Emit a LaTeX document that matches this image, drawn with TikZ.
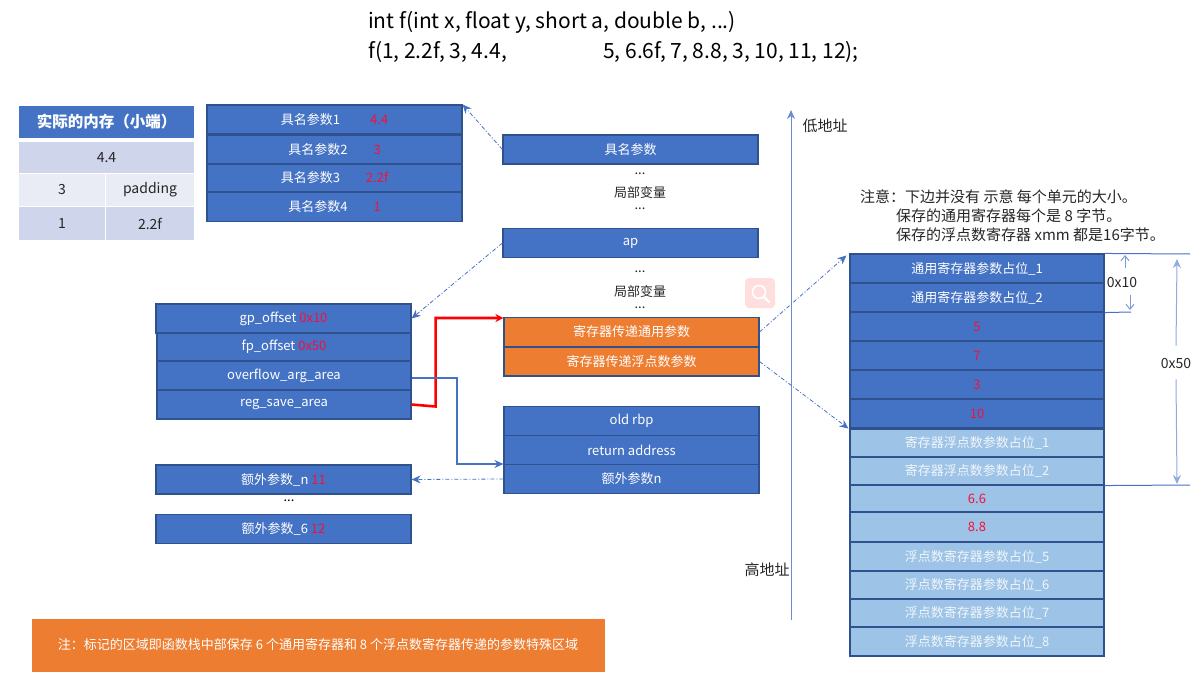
\documentclass[tikz,border=0pt]{standalone}
\usepackage{fontspec}
\setmainfont{Noto Sans CJK SC}
\usepackage{xcolor}
\usetikzlibrary{arrows.meta}
\definecolor{boxblue}{HTML}{4472C4}
\definecolor{boxline}{HTML}{2F528F}
\definecolor{boxlight}{HTML}{9DC3E6}
\definecolor{boxorange}{HTML}{ED7D31}
\definecolor{rowdark}{HTML}{CFD5EA}
\definecolor{rowpale}{HTML}{E9EBF5}
\definecolor{valred}{HTML}{F5103C}
\definecolor{inkgray}{HTML}{262626}
\newcommand{\val}[1]{\textcolor{valred}{#1}}
\newcommand{\fs}[1]{\fontsize{#1}{#1}\selectfont}
\tikzset{
  cell/.style={draw=boxline,line width=1.1pt,fill=boxblue,text=white,minimum width=255pt,minimum height=29pt,inner sep=0pt,font=\fs{13}},
  cellpale/.style={cell,fill=boxlight,text=white!85!boxlight},
  cellhot/.style={cell,fill=boxorange},
  tabrow/.style={minimum height=32pt,inner sep=0pt,text=inkgray,font=\fs{14}},
  plain/.style={inner sep=0pt,text=inkgray,font=\fs{13}},
  note/.style={inner sep=0pt,anchor=west,text=inkgray,font=\fs{15}},
  head/.style={inner sep=0pt,anchor=west,text=black,font=\fs{21}},
  linkdash/.style={->,boxblue,line width=0.8pt,dash pattern=on 4pt off 2pt on 1pt off 2pt},
  dim/.style={boxblue,line width=1pt}
}
\begin{document}
\begin{tikzpicture}[x=1pt,y=-1pt,>={Stealth[length=9pt,width=8pt]}]
\useasboundingbox (0,0) rectangle (1201,682);
% title
\node[head] (sig) at (368,22) {int f(int x, float y, short a, double b, ...)};
\node[head] (callA) at (368,52) {f(1, 2.2f, 3, 4.4,};
\node[head] (callB) at (603,52) {5, 6.6f, 7, 8.8, 3, 10, 11, 12);};
% memory table
\node[tabrow,fill=boxblue,text=white,minimum width=175pt,font=\bfseries\fs{15.5}] (memhead) at (106.5,122) {实际的内存（小端）};
\node[tabrow,fill=rowdark,minimum width=175pt,minimum height=31pt] (mem44) at (106.5,157.5) {4.4};
\node[tabrow,fill=rowpale,minimum width=86pt] (mem3) at (62,189.5) {3};
\node[tabrow,fill=rowpale,minimum width=88pt] (mempad) at (150,189.5) {padding};
\node[tabrow,fill=rowdark,minimum width=86pt,minimum height=33pt] (mem1) at (62,223.5) {1};
\node[tabrow,fill=rowdark,minimum width=88pt,minimum height=33pt] (mem22) at (150,223.5) {2.2f};
% named args
\node[cell] (name1) at (334.5,119.5) {具名参数1\hspace{30pt}\val{4.4}};
\node[cell,minimum height=28.5pt] (name2) at (334.5,149.7) {具名参数2\hspace{26pt}\val{3}};
\node[cell,minimum height=28pt] (name3) at (334.5,178) {具名参数3\hspace{26pt}\val{2.2f}};
\node[cell] (name4) at (334.5,207) {具名参数4\hspace{26pt}\val{1}};
% va_list
\node[cell] (gp) at (283.5,318.5) {gp\_offset \val{0x10}};
\node[cell,minimum width=254pt,minimum height=28pt] (fp) at (284,347) {fp\_offset \val{0x50}};
\node[cell,minimum width=254pt] (overflow) at (284,375.5) {overflow\_arg\_area};
\node[cell,minimum width=254pt] (regsave) at (284,404.5) {reg\_save\_area};
% extra args
\node[cell] (extran) at (283.5,479.5) {额外参数\_n \val{11}};
\node[plain,text=black] (extradots) at (289,501) {...};
\node[cell] (extra6) at (283.5,529) {额外参数\_6 \val{12}};
% frame
\node[cell] (named) at (630.5,149.5) {具名参数};
\node[plain] (dotsA) at (640,174) {...};
\node[plain] (localA) at (640,193) {局部变量};
\node[plain] (dotsB) at (640,209) {...};
\node[cell] (ap) at (630.5,243) {ap};
\node[plain] (dotsC) at (640,272) {...};
\node[plain] (localB) at (640,292) {局部变量};
\node[plain] (dotsD) at (640,308) {...};
\node[cellhot] (savegp) at (631.5,332) {寄存器传递通用参数};
\node[cellhot] (savefp) at (631.5,361.5) {寄存器传递浮点数参数};
\node[cell] (rbp) at (631.5,421) {old rbp};
\node[cell] (ret) at (631.5,450) {return address};
\node[cell] (extra) at (631.5,479) {额外参数n};
% search mark
\node[fill=red!13,rounded corners=4pt,minimum size=30pt,inner sep=0pt] (mark) at (760,293) {};
\draw[white,line width=1.6pt] (mark.center) ++(-1,-1) circle (6.5pt);
\draw[white,line width=2.2pt,line cap=round] (mark.center) ++(4,4) -- ++(5,5);
% address axis
\coordinate (axisB) at (791,620);
\coordinate (axisT) at (791,110);
\draw[->,boxblue!80,line width=1pt] (axisB) -- (axisT);
\node[plain,font=\fs{15}] (low) at (825,126) {低地址};
\node[plain,font=\fs{15}] (high) at (767,570) {高地址};
% note
\node[note] (noteA) at (860,197) {注意：下边并没有 示意 每个单元的大小。};
\node[note] (noteB) at (896,216) {保存的通用寄存器每个是 8 字节。};
\node[note] (noteC) at (896,235) {保存的浮点数寄存器 xmm 都是16字节。};
% register save area
\node[cell,minimum width=254pt] (gpa) at (977,268.5) {通用寄存器参数占位\_1};
\node[cell,minimum width=254pt] (gpb) at (977,297.5) {通用寄存器参数占位\_2};
\node[cell,minimum width=254pt] (gpc) at (977,326.5) {\val{5}};
\node[cell,minimum width=254pt] (gpd) at (977,355.5) {\val{7}};
\node[cell,minimum width=254pt] (gpe) at (977,384.5) {\val{3}};
\node[cell,minimum width=254pt] (gpf) at (977,413.5) {\val{10}};
\node[cellpale,minimum width=254pt,minimum height=28pt] (fpa) at (977,443) {寄存器浮点数参数占位\_1};
\node[cellpale,minimum width=254pt,minimum height=28pt] (fpb) at (977,471) {寄存器浮点数参数占位\_2};
\node[cellpale,minimum width=254pt,minimum height=27pt] (fpc) at (977,498.5) {\val{6.6}};
\node[cellpale,minimum width=254pt] (fpd) at (977,527) {\val{8.8}};
\node[cellpale,minimum width=254pt] (fpe) at (977,556.5) {浮点数寄存器参数占位\_5};
\node[cellpale,minimum width=254pt,minimum height=28pt] (fpf) at (977,585) {浮点数寄存器参数占位\_6};
\node[cellpale,minimum width=254pt,minimum height=28pt] (fpg) at (977,613) {浮点数寄存器参数占位\_7};
\node[cellpale,minimum width=254pt,minimum height=29pt] (fph) at (977,641.5) {浮点数寄存器参数占位\_8};
% sizes
\coordinate (topR) at (1190,254);
\coordinate (midR) at (1131,312);
\coordinate (lowR) at (1190,485);
\draw[dim] (gpa.north east) -- (topR);
\draw[dim] (gpb.south east) -- (midR);
\draw[dim] (fpb.south east) -- (lowR);
\node[plain,font=\fs{14}] (sizeA) at (1122,283) {0x10};
\node[plain,font=\fs{14}] (sizeB) at (1176,364) {0x50};
\coordinate (sizeAup) at (1125,255);
\coordinate (sizeAdn) at (1130,310);
\draw[dim,boxblue!70,-{Straight Barb[length=5pt,width=8pt]}] (1125,268) -- (sizeAup);
\draw[dim,boxblue!70,-{Straight Barb[length=5pt,width=8pt]}] (1130,295) -- (sizeAdn);
\coordinate (sizeBup) at (1177,259);
\coordinate (sizeBdn) at (1177,484);
\draw[->,dim,boxblue!60] (sizeB.north) ++(0,-13) -- (sizeBup);
\draw[->,dim,boxblue!60] (sizeB.south) ++(0,10) -- (sizeBdn);
% links
\draw[linkdash] (named.west) -- (name1.north east);
\draw[linkdash] (ap.west) -- (gp.east);
\draw[linkdash] (savegp.east) -- ([xshift=-3pt,yshift=-2pt]gpa.north west);
\draw[linkdash] (savefp.east) -- ([xshift=-1pt]gpf.south west);
\draw[linkdash] (extra.west) -- (extran.east);
\draw[->,red,line width=2.6pt,>={Stealth[length=8pt,width=8pt]}] (regsave.east) -- ++(24,2) |- ([yshift=14pt]savegp.west);
\draw[->,boxblue,line width=2.2pt] ([yshift=-2.5pt]overflow.east) -| (457,464) -- ([yshift=15pt]extra.west);
% footnote
\node[fill=boxorange,draw=boxorange,minimum width=572pt,minimum height=52pt,inner sep=0pt,text=white,font=\fs{13}] (foot) at (318,645) {注：标记的区域即函数栈中部保存 6 个通用寄存器和 8 个浮点数寄存器传递的参数特殊区域};
\end{tikzpicture}
\end{document}
